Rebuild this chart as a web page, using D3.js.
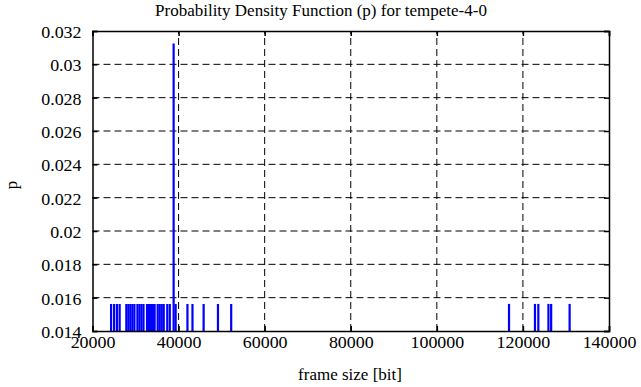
<!DOCTYPE html>
<html>
<head>
<meta charset="utf-8">
<script src="https://cdn.jsdelivr.net/npm/d3@7"></script>
<style>
  body { margin: 0; background: #fff; }
  svg { display: block; }
  .grid line { stroke: #000; stroke-width: 1; stroke-dasharray: 7,4; }
</style>
</head>
<body>
<div id="chart"></div>
<script>
// frame sizes (bit) of the impulses
const frameSizes = [24320, 25020, 25680, 26310,
  27860, 28330, 28800, 29270, 29740,
  30440, 30910, 31380, 31850,
  32670, 33140, 33610, 34080, 34430,
  35140, 35610, 36080, 36550,
  37370, 37960, 38850, 39320,
  42060, 43230, 45820, 49150, 52220,
  116770, 122800, 123580, 125930, 126560, 130850];
// p for each frame size (one impulse is double height)
const probs = [0.015625, 0.015625, 0.015625, 0.015625,
  0.015625, 0.015625, 0.015625, 0.015625, 0.015625,
  0.015625, 0.015625, 0.015625, 0.015625,
  0.015625, 0.015625, 0.015625, 0.015625, 0.015625,
  0.015625, 0.015625, 0.015625, 0.015625,
  0.015625, 0.015625, 0.03125, 0.015625,
  0.015625, 0.015625, 0.015625, 0.015625, 0.015625,
  0.015625, 0.015625, 0.015625, 0.015625, 0.015625, 0.015625];

const xTicks = [20000, 40000, 60000, 80000, 100000, 120000, 140000];
const yTicks = [0.014, 0.016, 0.018, 0.02, 0.022, 0.024, 0.026, 0.028, 0.03, 0.032];

const W = 641, H = 387;
const margin = { top: 31, right: 32, bottom: 56, left: 92.5 };
const serif = "'Liberation Serif', 'Times New Roman', serif";
const stretch = 1.12; // tick digits are wider than plain Times

const x = d3.scaleLinear([20000, 140000], [margin.left, W - margin.right]);
const y = d3.scaleLinear([0.014, 0.032], [H - margin.bottom, margin.top]);

const svg = d3.select("#chart").append("svg")
  .attr("width", W)
  .attr("height", H);

// dashed grid
const grid = svg.append("g").attr("class", "grid");
grid.selectAll(".gx")
  .data(xTicks.slice(1, -1))
  .enter().append("line")
  .attr("x1", d => x(d)).attr("x2", d => x(d))
  .attr("y1", y(0.014)).attr("y2", y(0.032));
grid.selectAll(".gy")
  .data(yTicks.slice(1, -1))
  .enter().append("line")
  .attr("x1", x(20000)).attr("x2", x(140000))
  .attr("y1", d => y(d)).attr("y2", d => y(d));

// impulses
svg.append("clipPath").attr("id", "plotclip")
  .append("rect")
  .attr("x", x(20000)).attr("y", y(0.032))
  .attr("width", x(140000) - x(20000))
  .attr("height", y(0.014) - y(0.032));

svg.append("g")
  .attr("clip-path", "url(#plotclip)")
  .selectAll(".bar")
  .data(frameSizes)
  .enter().append("line")
  .attr("class", "bar")
  .attr("x1", d => x(d)).attr("x2", d => x(d))
  .attr("y1", (d, i) => y(probs[i]))
  .attr("y2", y(0.014))
  .attr("stroke", "#0000ff")
  .attr("stroke-width", 2.2);

// axes, ticks pointing inward
const xAxis = d3.axisBottom(x).tickValues(xTicks).tickSize(-5).tickFormat(d3.format("d"));
const yAxis = d3.axisLeft(y).tickValues(yTicks).tickSize(-5).tickFormat(d => String(+d.toFixed(3)));

const gx = svg.append("g")
  .attr("transform", "translate(0," + y(0.014) + ")")
  .call(xAxis);
const gy = svg.append("g")
  .attr("transform", "translate(" + x(20000) + ",0)")
  .call(yAxis);
const gxTop = svg.append("g")
  .attr("transform", "translate(0," + y(0.032) + ")")
  .call(d3.axisTop(x).tickValues(xTicks).tickSize(-5).tickFormat(""));
const gyRight = svg.append("g")
  .attr("transform", "translate(" + x(140000) + ",0)")
  .call(d3.axisRight(y).tickValues(yTicks).tickSize(-5).tickFormat(""));

[gx, gy, gxTop, gyRight].forEach(g => {
  g.select(".domain").attr("stroke", "#000").attr("stroke-width", 1.5);
  g.selectAll(".tick line").attr("stroke", "#000").attr("stroke-width", 1.5);
});

gx.selectAll(".tick text")
  .attr("x", 0).attr("y", 17).attr("dy", 0)
  .attr("transform", "scale(" + stretch + ",1)");
gy.selectAll(".tick text")
  .attr("x", -11 / stretch).attr("dy", "6.5px")
  .attr("transform", "scale(" + stretch + ",1)");

// titles
svg.append("text")
  .attr("class", "title")
  .attr("x", 321).attr("y", 16)
  .attr("text-anchor", "middle")
  .text("Probability Density Function (p) for tempete-4-0");

svg.append("text")
  .attr("class", "title")
  .attr("x", 350).attr("y", 380)
  .attr("text-anchor", "middle")
  .text("frame size [bit]");

svg.append("text")
  .attr("class", "title")
  .attr("transform", "translate(17,185) rotate(-90)")
  .attr("text-anchor", "middle")
  .text("p");

// one serif face for every label
svg.selectAll("text")
  .attr("fill", "#000")
  .style("font-family", serif)
  .style("font-size", "16px");
svg.selectAll("text.title").style("font-size", "17px");
</script>
</body>
</html>
